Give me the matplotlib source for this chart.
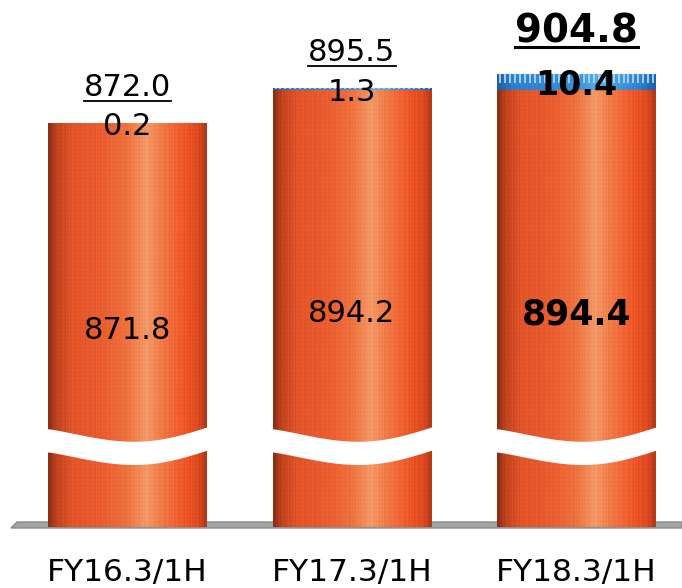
import numpy as np
import matplotlib
matplotlib.use('Agg')
import matplotlib.pyplot as plt
from matplotlib.colors import LinearSegmentedColormap
from matplotlib.lines import Line2D
from matplotlib.patches import Polygon
from matplotlib.transforms import IdentityTransform, blended_transform_factory

# data
periods = ['FY16.3/1H', 'FY17.3/1H', 'FY18.3/1H']
base_vals = [871.8, 894.2, 894.4]     # orange segment
top_vals = [0.2, 1.3, 10.4]           # blue segment
totals = [872.0, 895.5, 904.8]

W, H = 682, 588
fig = plt.figure(figsize=(W / 100, H / 100), dpi=100)
ax_bottom = 527
ax = fig.add_axes([0, (H - ax_bottom) / H, 1, ax_bottom / H])
ymin, ymax = 600.9, 954.6
ax.set_xlim(-0.568, 2.47)
ax.set_ylim(ymin, ymax)
ax.axis('off')

orange = LinearSegmentedColormap.from_list('cyl_o', [
    (0.00, '#8A2E14'), (0.05, '#C2441E'), (0.15, '#E4552A'), (0.35, '#EC5E30'),
    (0.50, '#F0733F'), (0.62, '#F59A68'), (0.72, '#F27A45'), (0.85, '#F25A2A'),
    (0.95, '#E04A20'), (1.00, '#B03A18')])
blue = LinearSegmentedColormap.from_list('cyl_b', [
    (0.00, '#1E5FA8'), (0.10, '#2F80D0'), (0.50, '#3A90DC'), (0.65, '#5AAEE8'),
    (0.90, '#2F82D2'), (1.00, '#1E60A8')])

# floor (pixel coords, y measured from the top of the picture)
fpts = [(11, 528), (17, 522), (W, 522), (W, 528)]
floor = Polygon([(px, H - py) for px, py in fpts], closed=True,
                facecolor='#A3A3A3', edgecolor='#8A8A8A', lw=1,
                transform=IdentityTransform(), zorder=1, clip_on=False)
ax.add_patch(floor)

x = np.arange(len(periods))
width = 0.705
bars_o = ax.bar(x, base_vals, width=width, color='none', zorder=2)
bars_b = ax.bar(x, top_vals, width=width, bottom=base_vals, color='none', zorder=2)

# cylinder shading with a fine stripe texture
ncol = 160
t = np.linspace(0, 1, ncol)
stripe = 1 + 0.05 * ((np.arange(ncol) % 3) == 0) - 0.04 * ((np.arange(ncol) % 5) == 2)

def shade(cmap, rows):
    img = cmap(t)[:, :3] * stripe[:, None]
    img = np.clip(img, 0, 1)
    img = np.repeat(img[None, :, :], rows, axis=0)
    rowmod = 1 - 0.03 * (np.arange(rows) % 2)
    return np.clip(img * rowmod[:, None, None], 0, 1)

for po, pb in zip(bars_o, bars_b):
    x0 = po.get_x()
    x1 = x0 + po.get_width()
    top_o = po.get_y() + po.get_height()
    im = ax.imshow(shade(orange, 200), extent=[x0, x1, ymin, top_o],
                   aspect='auto', interpolation='bilinear', zorder=2)
    im.set_clip_path(po)
    yb0 = pb.get_y()
    yb1 = yb0 + pb.get_height()
    imb = ax.imshow(shade(blue, 4), extent=[x0, x1, yb0, yb1],
                    aspect='auto', interpolation='bilinear', zorder=2)
    imb.set_clip_path(pb)
    tx = np.arange(x0 + 0.012, x1, 0.022)
    lines = ax.vlines(tx, yb0 + 0.45 * (yb1 - yb0), yb1, colors='#A8D8F6',
                      lw=1.3, zorder=3)
    lines.set_clip_path(pb)

    # axis break (white wave)
    xs = np.linspace(x0 - 0.01, x1 + 0.01, 200)
    tt = np.clip((xs - x0) / (x1 - x0), 0, 1)
    wave = 659 - 9 * np.sin(np.pi * tt ** 1.16) + 1.2 * tt
    ax.fill_between(xs, wave - 7.8, wave + 7.8, color='white', lw=0, zorder=4)

fs_norm = 22
# labels
for i in range(len(periods)):
    last = i == len(periods) - 1
    wt = 'bold' if last else 'normal'
    ax.text(x[i], (ymin + base_vals[i]) / 2 - 1.5, f'{base_vals[i]:.1f}',
            ha='center', va='center_baseline', fontsize=25 if last else fs_norm,
            fontweight=wt, zorder=5)
    ax.text(x[i], base_vals[i] + top_vals[i] / 2, f'{top_vals[i]:.1f}',
            ha='center', va='center_baseline', fontsize=24 if last else fs_norm,
            fontweight=wt, zorder=5)
    ax.text(x[i], -0.0854, periods[i], ha='center', va='center', fontsize=22.5,
            transform=blended_transform_factory(ax.transData, ax.transAxes))

tot_texts = []
for i in range(len(periods)):
    last = i == len(periods) - 1
    ty = totals[i] + (21.5 if last else 18)
    tt_ = ax.text(x[i], ty, f'{totals[i]:.1f}', ha='center', va='baseline',
                  fontsize=28 if last else fs_norm,
                  fontweight='bold' if last else 'normal', zorder=5)
    tot_texts.append((tt_, ty, last))

fig.canvas.draw()
renderer = fig.canvas.get_renderer()
for tt_, ty, last in tot_texts:
    bb = tt_.get_window_extent(renderer)
    base_px = ax.transData.transform((0, ty))[1]
    yl = base_px - 5
    fig.add_artist(Line2D([bb.x0, bb.x1], [yl, yl], color='black',
                          lw=2.2 if last else 1.3, transform=IdentityTransform()))

fig.savefig('out.png', dpi=100)
